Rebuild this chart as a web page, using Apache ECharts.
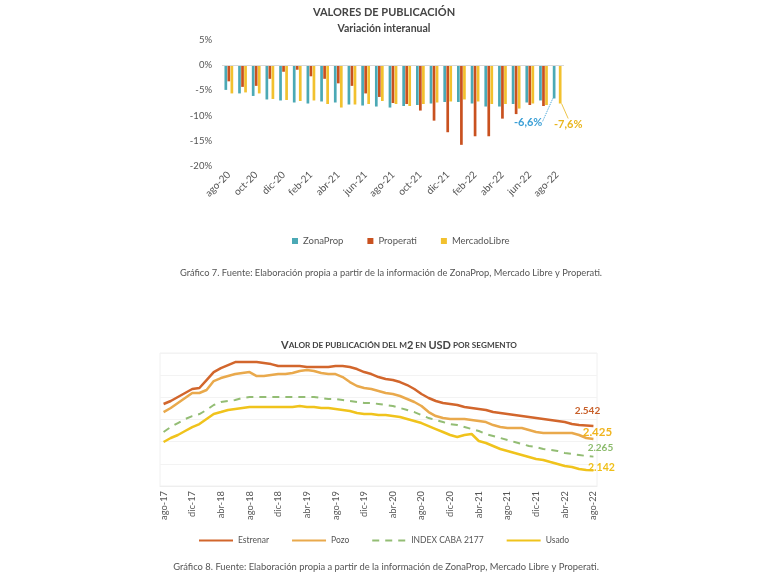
<!DOCTYPE html>
<html>
<head>
<meta charset="utf-8">
<script src="https://cdn.jsdelivr.net/npm/echarts@6/dist/echarts.min.js"></script>
<style>
html,body{margin:0;padding:0;background:#fff;}
#c{width:768px;height:576px;}
</style>
</head>
<body>
<div id="c"></div>
<script>
// ---- Chart 1: Variación interanual ----
var barCategories = ['ago-20','sep-20','oct-20','nov-20','dic-20','ene-21','feb-21','mar-21','abr-21','may-21','jun-21','jul-21','ago-21','sep-21','oct-21','nov-21','dic-21','ene-22','feb-22','mar-22','abr-22','may-22','jun-22','jul-22','ago-22'];
var zonaProp = [-4.9,-5.6,-6.1,-6.8,-7.0,-7.4,-7.6,-7.2,-7.4,-7.8,-8.0,-8.2,-8.4,-8.1,-7.9,-7.6,-7.3,-7.3,-7.6,-8.2,-8.2,-7.7,-7.4,-7.0,-6.6];
var properati = [-3.2,-4.3,-4.1,-2.7,-1.3,-0.9,-2.2,-2.7,-3.6,-4.1,-5.6,-6.3,-7.5,-7.7,-9.0,-11.0,-13.3,-15.8,-14.1,-14.1,-10.6,-9.7,-7.9,-8.1,null];
var mercadoLibre = [-5.6,-5.4,-5.6,-6.7,-6.9,-7.1,-7.0,-7.7,-8.4,-7.8,-7.7,-7.1,-7.7,-8.1,-7.7,-7.4,-7.2,-6.8,-7.2,-7.7,-7.7,-8.6,-7.6,-7.9,-7.6];
var barYTicks = {min:-20, max:5, interval:5};

// ---- Chart 2: Valor del m2 en USD por segmento ----
var lineCategories = ['ago-17','sep-17','oct-17','nov-17','dic-17','ene-18','feb-18','mar-18','abr-18','may-18','jun-18','jul-18','ago-18','sep-18','oct-18','nov-18','dic-18','ene-19','feb-19','mar-19','abr-19','may-19','jun-19','jul-19','ago-19','sep-19','oct-19','nov-19','dic-19','ene-20','feb-20','mar-20','abr-20','may-20','jun-20','jul-20','ago-20','sep-20','oct-20','nov-20','dic-20','ene-21','feb-21','mar-21','abr-21','may-21','jun-21','jul-21','ago-21','sep-21','oct-21','nov-21','dic-21','ene-22','feb-22','mar-22','abr-22','may-22','jun-22','jul-22','ago-22'];
var estrenar = [2740,2767,2803,2839,2875,2884,2956,3028,3064,3091,3118,3118,3118,3118,3109,3100,3082,3082,3082,3082,3073,3073,3073,3073,3082,3082,3073,3055,3028,3010,2983,2965,2956,2938,2911,2875,2830,2794,2767,2749,2740,2731,2713,2704,2695,2686,2667,2658,2649,2640,2631,2622,2613,2604,2595,2586,2577,2559,2550,2546,2542];
var pozo = [2667,2704,2749,2794,2839,2839,2866,2947,2974,2992,3010,3019,3028,2992,2992,3001,3010,3010,3019,3037,3046,3037,3019,3010,3010,2983,2938,2902,2884,2875,2857,2839,2830,2812,2785,2758,2722,2667,2631,2613,2604,2604,2604,2595,2586,2577,2550,2532,2523,2523,2523,2505,2487,2478,2478,2478,2478,2478,2460,2433,2425];
var indexCaba = [2487,2532,2568,2604,2631,2649,2686,2731,2758,2767,2776,2794,2803,2803,2803,2803,2803,2803,2803,2803,2803,2803,2794,2785,2785,2776,2767,2758,2749,2749,2740,2731,2722,2704,2686,2667,2640,2613,2595,2577,2559,2550,2532,2514,2496,2469,2451,2433,2415,2397,2379,2361,2352,2334,2325,2316,2298,2289,2280,2271,2265];
var usado = [2397,2433,2460,2496,2532,2559,2604,2649,2667,2686,2695,2704,2713,2713,2713,2713,2713,2713,2713,2722,2713,2713,2704,2704,2695,2686,2677,2658,2649,2649,2640,2640,2631,2622,2604,2586,2568,2541,2514,2487,2460,2442,2460,2469,2406,2388,2361,2334,2316,2298,2280,2262,2244,2235,2216,2198,2180,2171,2153,2144,2142];
var lineYTicks = {min:2000, max:3200, interval:200};

var FONT = 'Lato, "Open Sans", sans-serif';
function pct(v){ return v.toFixed(1).replace('.', ',') + '%'; }
function thousands(v){ return String(v).replace(/\B(?=(\d{3})+(?!\d))/g, '.'); }
function lastLabelData(arr, labelOpt){
  var lastIdx = arr.length - 1;
  while (lastIdx >= 0 && arr[lastIdx] == null) lastIdx--;
  return arr.map(function(v, i){
    if (i === lastIdx) return {value: v, label: labelOpt};
    return v;
  });
}

var C_ZP = '#4ba9b5', C_PR = '#c9511f', C_ML = '#f2c12e';
var C_EST = '#d2662c', C_POZO = '#e9a94c', C_IDX = '#93bd74', C_USA = '#f0c31c';

var chart = echarts.init(document.getElementById('c'), null, {renderer:'canvas'});
var option = {
  backgroundColor:'#ffffff',
  textStyle:{fontFamily: FONT},
  animation:false,
  title:[
    {text:'VALORES DE PUBLICACIÓN', subtext:'Variación interanual', left:'center', top:2, itemGap:5,
     textStyle:{fontFamily:FONT, fontSize:11, fontWeight:'bold', color:'#444'},
     subtextStyle:{fontFamily:FONT, fontSize:10.5, fontWeight:'bold', color:'#444'}},
    {text:'{a|V}{b|ALOR DE PUBLICACIÓN DEL M}{a|2}{b| EN }{a|USD}{b| POR SEGMENTO}', left:394, textAlign:'center', top:335,
     textStyle:{rich:{
       a:{fontFamily:FONT, fontSize:11, fontWeight:'bold', color:'#444'},
       b:{fontFamily:FONT, fontSize:8.2, fontWeight:'bold', color:'#444'}}}},
    {text:'Gráfico 7. Fuente: Elaboración propia a partir de la información de ZonaProp, Mercado Libre y Properati.', left:386, textAlign:'center', top:263,
     textStyle:{fontFamily:FONT, fontSize:9.3, fontWeight:'normal', color:'#555'}},
    {text:'Gráfico 8. Fuente: Elaboración propia a partir de la información de ZonaProp, Mercado Libre y Properati.', left:381, textAlign:'center', top:557,
     textStyle:{fontFamily:FONT, fontSize:9.4, fontWeight:'normal', color:'#555'}}
  ],
  legend:[
    {data:['ZonaProp','Properati','MercadoLibre'], left:287, top:231, icon:'rect', itemWidth:6, itemHeight:6, itemGap:24,
     textStyle:{fontFamily:FONT, fontSize:9.5, color:'#555'}},
    {data:['Estrenar','Pozo','INDEX CABA 2177','Usado'], left:193, top:531, itemWidth:34, itemHeight:3, itemGap:22,
     itemStyle:{opacity:0},
     textStyle:{fontFamily:FONT, fontSize:8.5, color:'#555'}}
  ],
  grid:[
    {left:222, width:342, top:40, height:126, containLabel:false},
    {left:160, width:437, top:353, height:133, containLabel:false, show:true, borderColor:'#f0f0f0', borderWidth:1}
  ],
  xAxis:[
    {type:'category', gridIndex:0, data:barCategories, axisLine:{show:false}, axisTick:{show:false},
     axisLabel:{rotate:45, interval:1, fontFamily:FONT, fontSize:10, color:'#555', margin:7}},
    {type:'category', gridIndex:1, data:lineCategories, boundaryGap:true, axisLine:{show:true, lineStyle:{color:'#eeeeee'}}, axisTick:{show:false},
     axisLabel:{rotate:90, interval:3, fontFamily:FONT, fontSize:9.3, color:'#555', margin:5}}
  ],
  yAxis:[
    {type:'value', gridIndex:0, min:barYTicks.min, max:barYTicks.max, interval:barYTicks.interval,
     axisLine:{show:false}, axisTick:{show:false}, splitLine:{show:false},
     axisLabel:{formatter:'{value}%', fontFamily:FONT, fontSize:9.5, color:'#555', margin:10}},
    {type:'value', gridIndex:1, min:lineYTicks.min, max:lineYTicks.max, interval:lineYTicks.interval,
     axisLine:{show:false}, axisTick:{show:false}, axisLabel:{show:false},
     splitLine:{show:true, lineStyle:{color:'#f3f3f3', width:1}}}
  ],
  series:[
    {name:'ZonaProp', type:'bar', xAxisIndex:0, yAxisIndex:0, barWidth:2.7, barGap:'12%', itemStyle:{color:C_ZP},
     data: lastLabelData(zonaProp, {show:true, position:'bottom', formatter:function(p){return pct(p.value);}, color:'#3a9fd6', fontFamily:FONT, fontSize:11, fontWeight:'bold'}),
     labelLayout:{dx:-26, dy:13},
     labelLine:{show:true, lineStyle:{color:'#3a9fd6', type:'dotted', width:1}},
     markLine:{silent:true, symbol:'none', label:{show:false}, lineStyle:{color:'#d9d9d9', type:'solid', width:1}, data:[{yAxis:0}]}},
    {name:'Properati', type:'bar', xAxisIndex:0, yAxisIndex:0, barWidth:2.7, barGap:'12%', itemStyle:{color:C_PR}, data:properati},
    {name:'MercadoLibre', type:'bar', xAxisIndex:0, yAxisIndex:0, barWidth:2.7, barGap:'12%', itemStyle:{color:C_ML},
     data: lastLabelData(mercadoLibre, {show:true, position:'bottom', formatter:function(p){return pct(p.value);}, color:'#e9b51c', fontFamily:FONT, fontSize:11, fontWeight:'bold'}),
     labelLayout:{dx:8, dy:10},
     labelLine:{show:true, lineStyle:{color:'#e9b51c', type:'solid', width:0.8}}},
    {name:'Estrenar', type:'line', xAxisIndex:1, yAxisIndex:1, data:estrenar, symbol:'none', showSymbol:false,
     lineStyle:{color:C_EST, width:2.5}, itemStyle:{color:C_EST},
     endLabel:{show:true, formatter:function(p){return thousands(p.value);}, color:'#c8602a', fontFamily:FONT, fontSize:10, fontWeight:'bold', align:'center', verticalAlign:'middle', distance:0, offset:[-6,-15]}},
    {name:'Pozo', type:'line', xAxisIndex:1, yAxisIndex:1, data:pozo, symbol:'none', showSymbol:false,
     lineStyle:{color:C_POZO, width:2.5}, itemStyle:{color:C_POZO},
     endLabel:{show:true, formatter:function(p){return thousands(p.value);}, color:'#f0b41e', fontFamily:FONT, fontSize:11.5, fontWeight:'bold', align:'center', verticalAlign:'middle', distance:0, offset:[4,-7]}},
    {name:'INDEX CABA 2177', type:'line', xAxisIndex:1, yAxisIndex:1, data:indexCaba, symbol:'none', showSymbol:false,
     lineStyle:{color:C_IDX, width:2, type:[7,6]}, itemStyle:{color:C_IDX},
     endLabel:{show:true, formatter:function(p){return thousands(p.value);}, color:'#8cbb6c', fontFamily:FONT, fontSize:10, fontWeight:'bold', align:'center', verticalAlign:'middle', distance:0, offset:[7,-9]}},
    {name:'Usado', type:'line', xAxisIndex:1, yAxisIndex:1, data:usado, symbol:'none', showSymbol:false,
     lineStyle:{color:C_USA, width:2.5}, itemStyle:{color:C_USA},
     endLabel:{show:true, formatter:function(p){return thousands(p.value);}, color:'#efbf18', fontFamily:FONT, fontSize:10.5, fontWeight:'bold', align:'center', verticalAlign:'middle', distance:0, offset:[8,-3]}}
  ]
};
chart.setOption(option);
</script>
</body>
</html>
